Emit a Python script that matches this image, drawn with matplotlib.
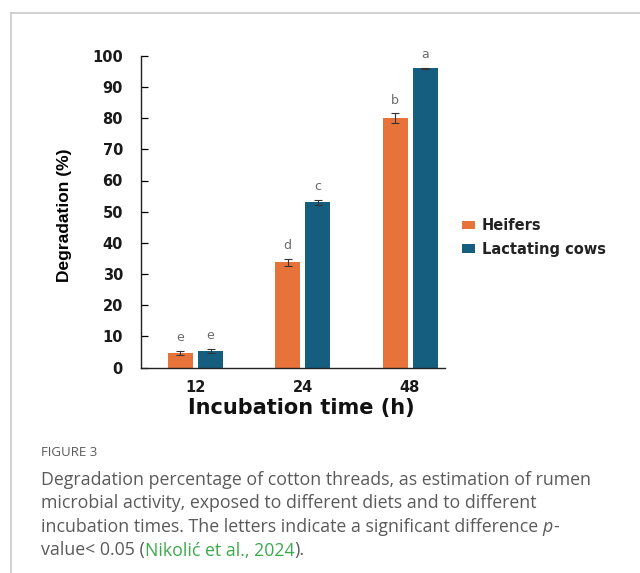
import matplotlib
matplotlib.use("Agg")
import matplotlib.pyplot as plt
import numpy as np
from matplotlib.lines import Line2D

# data
times = ["12", "24", "48"]
heifers = [4.8, 33.8, 80.0]
heifers_err = [0.6, 1.2, 1.5]
cows = [5.4, 53.0, 96.0]
cows_err = [0.7, 0.9, 0.2]
heifers_letters = ["e", "d", "b"]
cows_letters = ["e", "c", "a"]
yticks = [0, 10, 20, 30, 40, 50, 60, 70, 80, 90, 100]

ORANGE = "#E8733A"
BLUE = "#165E80"
W, H = 640, 573


def fx(px):
    return px / W


def fy(py):
    return 1 - py / H


fig = plt.figure(figsize=(6.4, 5.73), dpi=100)
fig.patch.set_facecolor("white")

# panel frame
fig.add_artist(Line2D([fx(11), 1], [fy(13), fy(13)], color="#c9c9c9", lw=1.2))
fig.add_artist(Line2D([fx(11), fx(11)], [fy(13), 0], color="#c9c9c9", lw=1.2))

ax = fig.add_axes([fx(141), fy(367.7), fx(445) - fx(141), fy(55.7) - fy(367.7)])
x = np.arange(len(times))
off = 0.14
bw = 0.233
ax.bar(x - off, heifers, bw, color=ORANGE, label="Heifers",
       yerr=heifers_err, capsize=3, error_kw=dict(elinewidth=0.8, capthick=0.8, ecolor="#333333"))
ax.bar(x + off, cows, bw, color=BLUE, label="Lactating cows",
       yerr=cows_err, capsize=3, error_kw=dict(elinewidth=0.8, capthick=0.8, ecolor="#333333"))

for i in range(len(times)):
    ax.text(x[i] - off, heifers[i] + heifers_err[i] + 2.2, heifers_letters[i],
            ha="center", va="bottom", fontsize=9, color="#6a6a6a", clip_on=False)
    ax.text(x[i] + off, cows[i] + cows_err[i] + 2.2, cows_letters[i],
            ha="center", va="bottom", fontsize=9, color="#6a6a6a", clip_on=False)

ax.set_xlim(-0.508, 2.326)
ax.set_ylim(0, 100)
ax.set_yticks(yticks)
ax.set_xticks(x)
ax.set_xticklabels(times)
for s in ["top", "right"]:
    ax.spines[s].set_visible(False)
for s in ["left", "bottom"]:
    ax.spines[s].set_linewidth(1.0)
    ax.spines[s].set_color("#222222")
ax.tick_params(axis="y", direction="in", length=5, width=0.9, pad=13,
               labelsize=10.5, labelcolor="#1a1a1a")
ax.tick_params(axis="x", length=0, pad=9, labelsize=10.5, labelcolor="#1a1a1a")
for lab in ax.get_yticklabels() + ax.get_xticklabels():
    lab.set_fontweight("semibold")

# axis titles
fig.text(fx(301.5), fy(408), "Incubation time (h)", ha="center", va="center",
         fontsize=15, fontweight="bold", color="#111111")
fig.text(fx(65), fy(215), "Degradation (%)", rotation=90, ha="center", va="center",
         fontsize=12.5, fontweight="bold", family=["Liberation Sans Narrow", "Liberation Sans"])

leg = ax.legend(loc="upper left", bbox_to_anchor=(fx(456), fy(212)), bbox_transform=fig.transFigure,
                frameon=False, fontsize=10.5, handlelength=0.9, handleheight=0.5,
                handletextpad=0.45, labelspacing=0.6, borderaxespad=0)
for t in leg.get_texts():
    t.set_fontweight("semibold")
    t.set_color("#222222")

# caption
cap_color = "#5a5a5a"
fig.text(fx(41), fy(452), "FIGURE 3", fontsize=9.5, color=cap_color, va="center",
         family="Open Sans")

lines = [
    [("Degradation percentage of cotton threads, as estimation of rumen", {})],
    [("microbial activity, exposed to different diets and to different", {})],
    [("incubation times. The letters indicate a significant difference ", {}),
     ("p", {"style": "italic"}), ("-", {})],
    [("value< 0.05 (", {}), ("Nikolić et al., 2024", {"color": "#3BAA4A"}), (").", {})],
]
line_y = [480, 503.5, 527, 550.5]

fig.canvas.draw()
renderer = fig.canvas.get_renderer()
for parts, ly in zip(lines, line_y):
    px = 41
    for txt, kw in parts:
        opts = dict(fontsize=12.8, color=cap_color, family="Open Sans", va="center")
        opts.update(kw)
        t = fig.text(fx(px), fy(ly), txt, **opts)
        bb = t.get_window_extent(renderer=renderer)
        px += bb.width

fig.savefig("out.png", dpi=100, facecolor="white")
